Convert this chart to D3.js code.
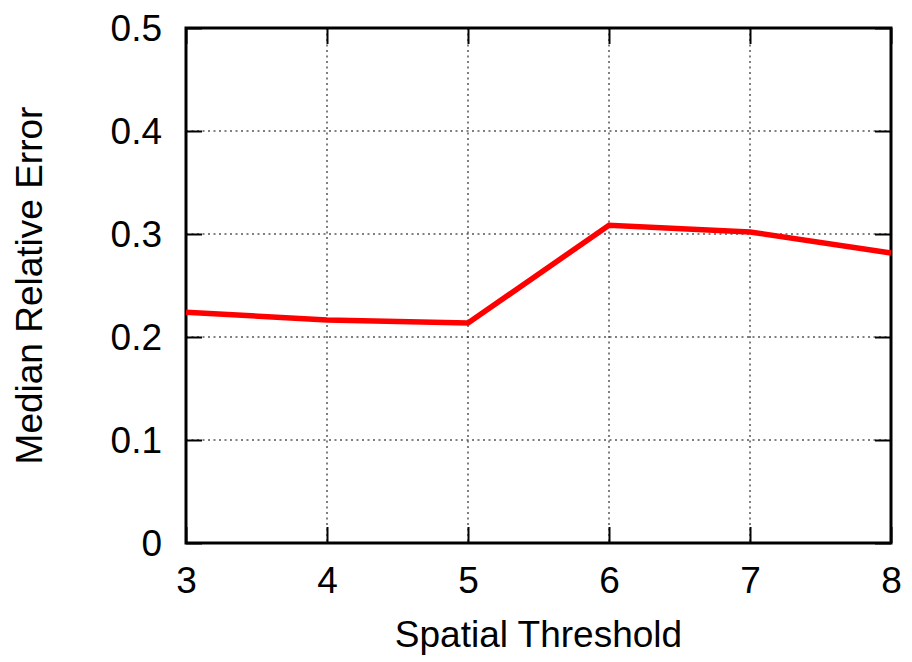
<!DOCTYPE html>
<html>
<head>
<meta charset="utf-8">
<script src="https://cdn.jsdelivr.net/npm/d3@7"></script>
<style>
  body { margin: 0; background: #fff; }
  text { font-family: "Liberation Sans", Arial, Helvetica, sans-serif; fill: #000; }
</style>
</head>
<body>
<svg id="chart" width="912" height="662"></svg>
<script>
// data
var thresholds = [3, 4, 5, 6, 7, 8];
var medianError = [0.224, 0.2165, 0.2135, 0.3085, 0.302, 0.2815];
var yTicks = [0, 0.1, 0.2, 0.3, 0.4, 0.5];

var svg = d3.select("#chart"),
    plotL = 186, plotR = 891, plotT = 28, plotB = 543,
    fs = 37;

var x = d3.scaleLinear().domain([3, 8]).range([plotL, plotR]);
var y = d3.scaleLinear().domain([0, 0.5]).range([plotB, plotT]);

// dotted grid
var grid = svg.append("g");
grid.selectAll(".gx")
  .data(thresholds.slice(1, -1))
  .enter().append("line")
  .attr("x1", function(d) { return x(d); })
  .attr("x2", function(d) { return x(d); })
  .attr("y1", plotT).attr("y2", plotB)
  .attr("stroke", "#000").attr("stroke-width", 1)
  .attr("stroke-dasharray", "2,3.5");
grid.selectAll(".gy")
  .data(yTicks.slice(1, -1))
  .enter().append("line")
  .attr("y1", function(d) { return y(d); })
  .attr("y2", function(d) { return y(d); })
  .attr("x1", plotL).attr("x2", plotR)
  .attr("stroke", "#000").attr("stroke-width", 1)
  .attr("stroke-dasharray", "2,3.5");

// inward ticks on all four sides
var tl = 16;
function fmt(d) { return d === 0 ? "0" : d3.format(".1f")(d); }

var axB = d3.axisBottom(x).tickValues(thresholds).tickSizeInner(-tl).tickSizeOuter(0).tickPadding(24).tickFormat(d3.format("d"));
var axT = d3.axisTop(x).tickValues(thresholds).tickSizeInner(-tl).tickSizeOuter(0).tickFormat("");
var axL = d3.axisLeft(y).tickValues(yTicks).tickSizeInner(-tl).tickSizeOuter(0).tickPadding(24).tickFormat(fmt);
var axR = d3.axisRight(y).tickValues(yTicks).tickSizeInner(-tl).tickSizeOuter(0).tickFormat("");

var gB = svg.append("g").attr("transform", "translate(0," + plotB + ")").call(axB);
var gT = svg.append("g").attr("transform", "translate(0," + plotT + ")").call(axT);
var gL = svg.append("g").attr("transform", "translate(" + plotL + ",0)").call(axL);
var gR = svg.append("g").attr("transform", "translate(" + plotR + ",0)").call(axR);

[gB, gT, gL, gR].forEach(function(g) {
  g.select(".domain").remove();
  g.selectAll(".tick line").attr("stroke", "#000").attr("stroke-width", 2);
  g.selectAll(".tick text").attr("font-size", fs).attr("font-family", "Liberation Sans, Arial, sans-serif").attr("fill", "#000");
});
gL.selectAll(".tick text").attr("dy", "0.35em");
gB.selectAll(".tick text").attr("dy", "0.71em");

// frame
svg.append("rect")
  .attr("x", plotL).attr("y", plotT)
  .attr("width", plotR - plotL).attr("height", plotB - plotT)
  .attr("fill", "none").attr("stroke", "#000").attr("stroke-width", 3);

// the series
var line = d3.line()
  .x(function(d, i) { return x(thresholds[i]); })
  .y(function(d) { return y(d); });
svg.append("path")
  .datum(medianError)
  .attr("d", line)
  .attr("fill", "none")
  .attr("stroke", "#ff0000")
  .attr("stroke-width", 5.5)
  .attr("stroke-linejoin", "miter");

// axis titles
svg.append("text")
  .attr("x", (plotL + plotR) / 2).attr("y", 647)
  .attr("text-anchor", "middle").attr("font-size", fs)
  .text("Spatial Threshold");
svg.append("text")
  .attr("transform", "translate(42," + ((plotT + plotB) / 2) + ") rotate(-90)")
  .attr("text-anchor", "middle").attr("font-size", fs)
  .text("Median Relative Error");
</script>
</body>
</html>
